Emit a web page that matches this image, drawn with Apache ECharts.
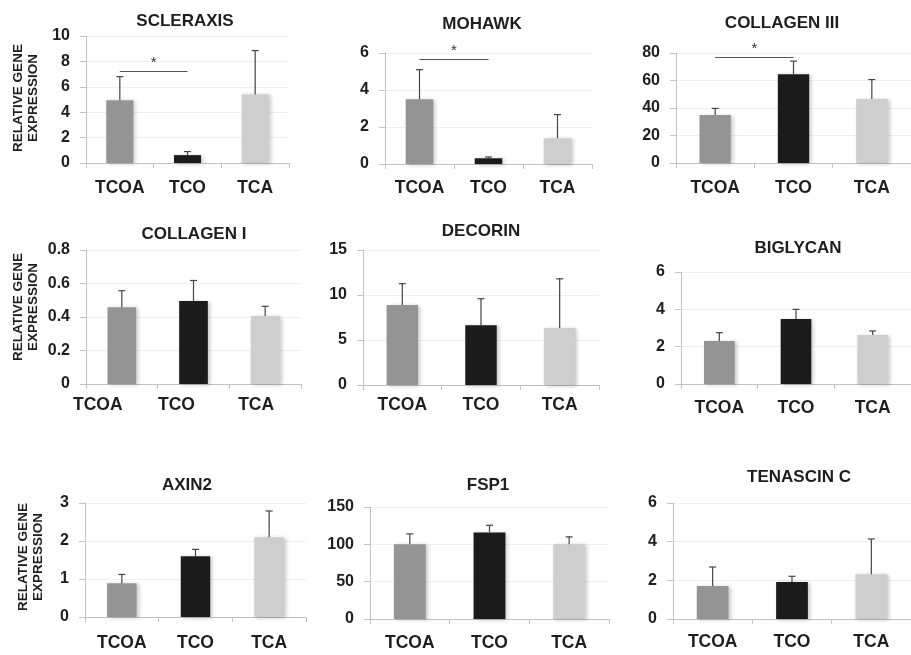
<!DOCTYPE html>
<html>
<head>
<meta charset="utf-8">
<script src="https://cdn.jsdelivr.net/npm/echarts@6/dist/echarts.min.js"></script>
<style>
html,body{margin:0;padding:0;background:#fff;}
#chart{width:911px;height:655px;}
</style>
</head>
<body>
<div id="chart"></div>
<script>
// ---- Data ----
const categories = ['TCOA', 'TCO', 'TCA'];
const panelTitles = ['SCLERAXIS', 'MOHAWK', 'COLLAGEN III', 'COLLAGEN I', 'DECORIN', 'BIGLYCAN', 'AXIN2', 'FSP1', 'TENASCIN C'];
const yAxisTitle = 'RELATIVE GENE\nEXPRESSION';

const scleraxisMean = [4.95, 0.62, 5.4];
const scleraxisErr  = [1.85, 0.28, 3.45];
const mohawkMean    = [3.5, 0.31, 1.39];
const mohawkErr     = [1.6, 0.07, 1.28];
const collagen3Mean = [35, 64.6, 46.5];
const collagen3Err  = [4.7, 9.5, 14.2];
const collagen1Mean = [0.458, 0.496, 0.406];
const collagen1Err  = [0.099, 0.122, 0.058];
const decorinMean   = [8.9, 6.65, 6.33];
const decorinErr    = [2.36, 2.94, 5.47];
const biglycanMean  = [2.3, 3.48, 2.62];
const biglycanErr   = [0.45, 0.52, 0.22];
const axin2Mean     = [0.89, 1.6, 2.1];
const axin2Err      = [0.23, 0.18, 0.69];
const fsp1Mean      = [100, 116, 100];
const fsp1Err       = [14, 9.5, 10];
const tenascinMean  = [1.71, 1.91, 2.31];
const tenascinErr   = [0.98, 0.3, 1.83];

// significance brackets: [fromCategory, toCategory, y value]
const sigScleraxis  = ['TCOA', 'TCO', 7.24];
const sigMohawk     = ['TCOA', 'TCO', 5.68];
const sigCollagen3  = ['TCOA', 'TCO', 77];

const yMax      = [10, 6, 80, 0.8, 15, 6, 3, 150, 6];
const yInterval = [2, 2, 20, 0.2, 5, 2, 1, 50, 2];

// ---- Layout / style ----
const barColors = ['#949494', '#1b1b1b', '#cecece'];
const FONT = '"Liberation Sans", Arial, Helvetica, sans-serif';
const TXT = '#1e1e1e';
const AXIS = '#c2c2c2';

const panels = [
  {mean: scleraxisMean, err: scleraxisErr, sig: sigScleraxis},
  {mean: mohawkMean, err: mohawkErr, sig: sigMohawk},
  {mean: collagen3Mean, err: collagen3Err, sig: sigCollagen3},
  {mean: collagen1Mean, err: collagen1Err},
  {mean: decorinMean, err: decorinErr},
  {mean: biglycanMean, err: biglycanErr},
  {mean: axin2Mean, err: axin2Err},
  {mean: fsp1Mean, err: fsp1Err},
  {mean: tenascinMean, err: tenascinErr}
];

const layouts = [
  {left: 86,  top: 36,  width: 203, height: 127, tx: 185, ty: 21,  xm: 16},
  {left: 385, top: 53,  width: 207, height: 111, tx: 482, ty: 24,  xm: 15},
  {left: 676, top: 53,  width: 240, height: 110, tx: 782, ty: 23,  xm: 16},
  {left: 86,  top: 250, width: 215, height: 134, tx: 194, ty: 234, xm: 12, shift: [48, 34, 18]},
  {left: 363, top: 250, width: 236, height: 135, tx: 481, ty: 231, xm: 11},
  {left: 681, top: 272, width: 234, height: 112, tx: 798, ty: 248, xm: 15},
  {left: 85,  top: 503, width: 221, height: 114, tx: 187, ty: 485, xm: 17},
  {left: 370, top: 507, width: 239, height: 112, tx: 488, ty: 485, xm: 15},
  {left: 673, top: 503, width: 243, height: 116, tx: 799, ty: 477, xm: 14}
];

const yLabelPos = [[26, 98], [26, 307], [31, 557]];

const grids = [], xAxes = [], yAxes = [], series = [], graphics = [];

panels.forEach((p, i) => {
  const L = layouts[i];
  grids.push({left: L.left, top: L.top, width: L.width, height: L.height, containLabel: false});

  const xLabel = {
    fontSize: 17.5, fontWeight: 'bold', color: TXT, fontFamily: FONT, margin: L.xm, interval: 0
  };
  if (L.shift) {
    const rich = {};
    L.shift.forEach((s, j) => {
      rich['c' + j] = {fontSize: 17.5, fontWeight: 'bold', color: TXT, fontFamily: FONT, padding: [0, s, 0, 0]};
    });
    xLabel.formatter = (v, idx) => '{c' + idx + '|' + v + '}';
    xLabel.rich = rich;
  }
  xAxes.push({
    type: 'category', gridIndex: i, data: categories,
    axisLine: {lineStyle: {color: AXIS, width: 1}},
    axisTick: {show: true, length: 5, lineStyle: {color: AXIS}},
    axisLabel: xLabel,
    splitLine: {show: false}
  });
  yAxes.push({
    type: 'value', gridIndex: i, min: 0, max: yMax[i], interval: yInterval[i],
    axisLine: {show: true, lineStyle: {color: AXIS, width: 1}},
    axisTick: {show: true, length: 6, lineStyle: {color: AXIS}},
    axisLabel: {fontSize: 16, fontWeight: 'bold', color: TXT, fontFamily: FONT, margin: 16},
    splitLine: {show: true, lineStyle: {color: '#efefef', width: 1}}
  });

  const bar = {
    type: 'bar', xAxisIndex: i, yAxisIndex: i, barWidth: '40%',
    data: p.mean.map((v, j) => ({value: v, itemStyle: {color: barColors[j]}})),
    itemStyle: {shadowBlur: 4, shadowColor: 'rgba(0,0,0,0.22)', shadowOffsetX: 2, shadowOffsetY: 1},
    silent: true, animation: false
  };
  if (p.sig) {
    bar.markLine = {
      silent: true, symbol: ['none', 'none'], animation: false,
      lineStyle: {color: '#555', width: 1.2, type: 'solid'},
      label: {show: true, position: 'middle', formatter: '*', color: '#333', fontSize: 15, fontFamily: FONT, distance: 1},
      data: [[{coord: [p.sig[0], p.sig[2]]}, {coord: [p.sig[1], p.sig[2]]}]]
    };
  }
  series.push(bar);

  series.push({
    type: 'custom', xAxisIndex: i, yAxisIndex: i, z: 5, silent: true, animation: false,
    data: p.mean.map((v, j) => [j, v, v + p.err[j]]),
    renderItem: (params, api) => {
      const b = api.coord([api.value(0), api.value(1)]);
      const t = api.coord([api.value(0), api.value(2)]);
      const st = {stroke: '#444', lineWidth: 1.2};
      return {type: 'group', children: [
        {type: 'line', shape: {x1: b[0], y1: b[1], x2: t[0], y2: t[1]}, style: st},
        {type: 'line', shape: {x1: t[0] - 3.5, y1: t[1], x2: t[0] + 3.5, y2: t[1]}, style: st}
      ]};
    }
  });

  graphics.push({
    type: 'text', x: L.tx, y: L.ty, silent: true,
    style: {text: panelTitles[i], fill: TXT, font: 'bold 17px ' + FONT, align: 'center', verticalAlign: 'middle'}
  });
});

yLabelPos.forEach(pos => {
  graphics.push({
    type: 'text', x: pos[0], y: pos[1], rotation: Math.PI / 2, silent: true,
    style: {text: yAxisTitle, fill: TXT, font: 'bold 13.5px ' + FONT, align: 'center', verticalAlign: 'middle', lineHeight: 15.5}
  });
});

const chart = echarts.init(document.getElementById('chart'), null, {renderer: 'canvas'});
chart.setOption({
  backgroundColor: '#ffffff',
  animation: false,
  grid: grids,
  xAxis: xAxes,
  yAxis: yAxes,
  series: series,
  graphic: graphics
});
</script>
</body>
</html>
